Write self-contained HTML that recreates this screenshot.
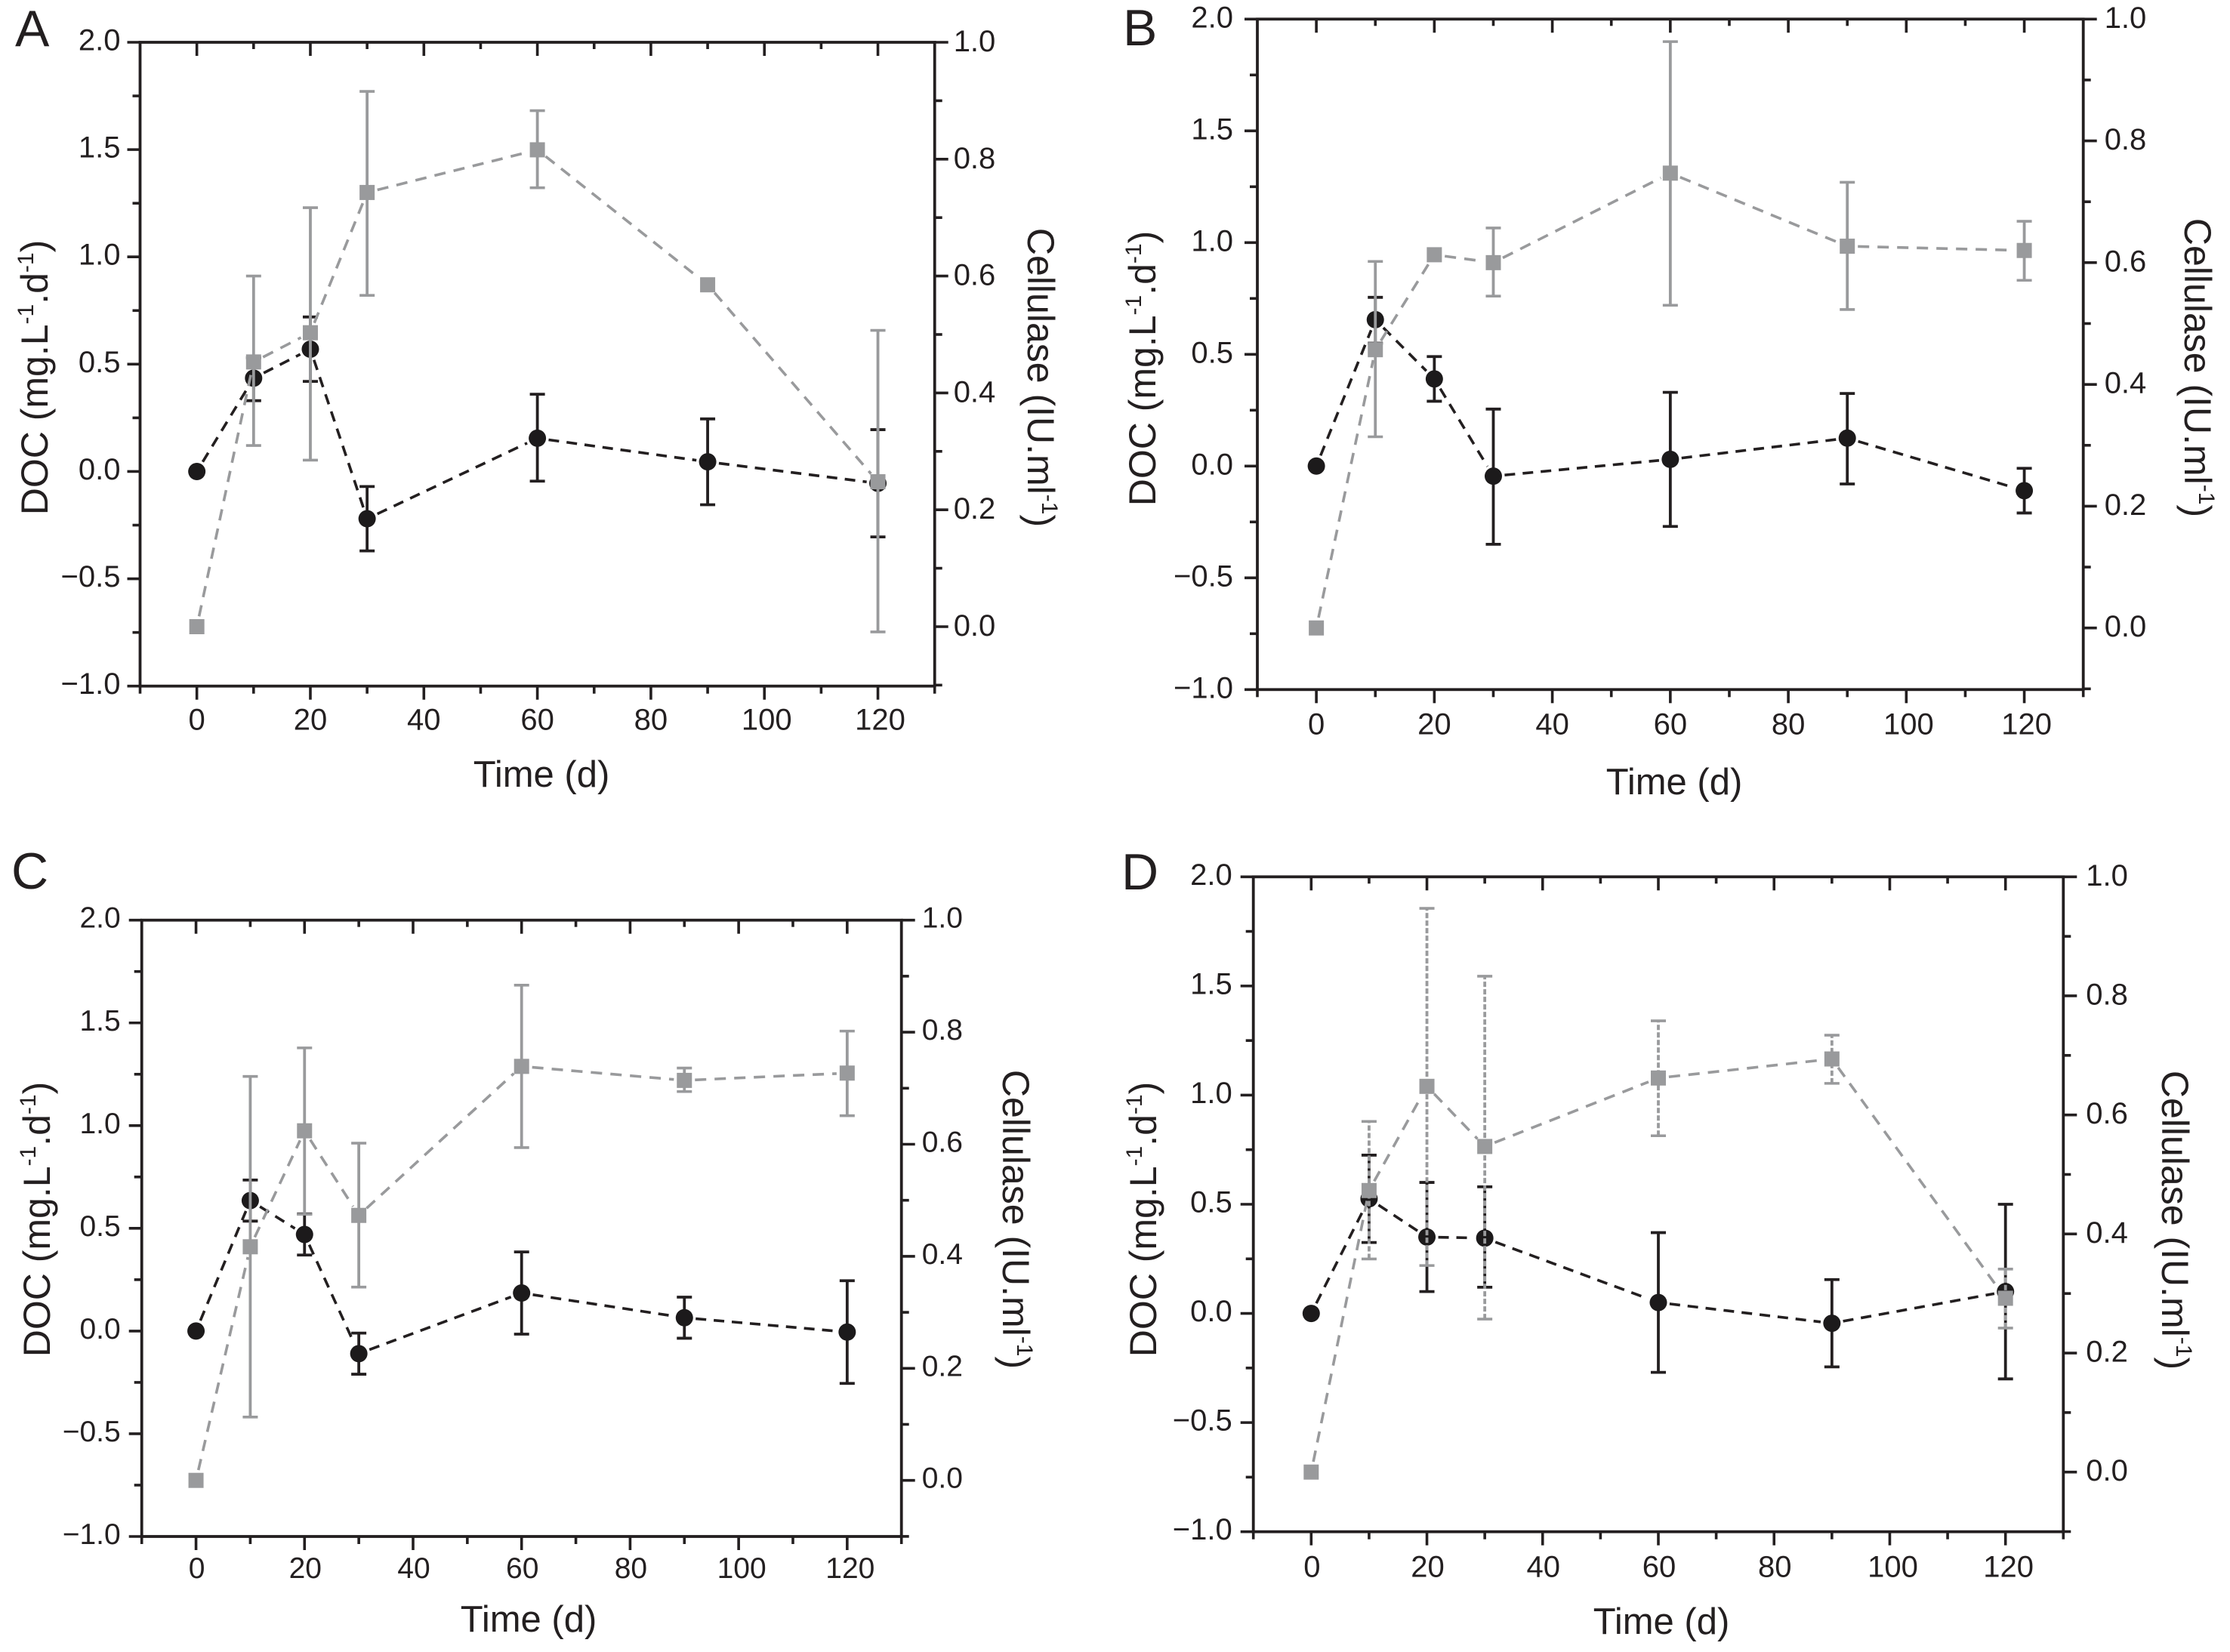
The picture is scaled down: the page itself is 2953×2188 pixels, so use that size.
<!DOCTYPE html>
<html lang="en">
<head>
<meta charset="utf-8">
<title>DOC and cellulase over time, panels A to D</title>
<style>
html,body{margin:0;padding:0;background:#fff;}
svg{display:block;}
text{font-family:"Liberation Sans",Arial,sans-serif;fill:#231f20;}
</style>
</head>
<body>
<svg id="figure" xmlns="http://www.w3.org/2000/svg" width="2953" height="2188" viewBox="0 0 2953 2188">
  <rect x="0" y="0" width="2953" height="2188" fill="#ffffff"/>

  <g id="panel-a">
    <text x="20" y="61" font-size="68">A</text>
    <text x="717" y="1042" font-size="49" text-anchor="middle">Time (d)</text>
    <text transform="translate(63,500) rotate(-90)" font-size="50" text-anchor="middle">DOC (mg.L<tspan font-size="30" dy="-19">-1</tspan><tspan dy="19">.d</tspan><tspan font-size="30" dy="-19">-1</tspan><tspan dy="19">)</tspan></text>
    <text transform="translate(1361,500) rotate(90)" font-size="50" text-anchor="middle">Cellulase (IU.ml<tspan font-size="30" dy="-19">-1</tspan><tspan dy="19">)</tspan></text>
  </g>

  <g id="panel-b">
    <text x="1487" y="60" font-size="68">B</text>
    <text x="2217" y="1052" font-size="49" text-anchor="middle">Time (d)</text>
    <text transform="translate(1530,488) rotate(-90)" font-size="50" text-anchor="middle">DOC (mg.L<tspan font-size="30" dy="-19">-1</tspan><tspan dy="19">.d</tspan><tspan font-size="30" dy="-19">-1</tspan><tspan dy="19">)</tspan></text>
    <text transform="translate(2893,487) rotate(90)" font-size="50" text-anchor="middle">Cellulase (IU.ml<tspan font-size="30" dy="-19">-1</tspan><tspan dy="19">)</tspan></text>
  </g>

  <g id="panel-c">
    <text x="15" y="1177" font-size="68">C</text>
    <text x="700" y="2161" font-size="49" text-anchor="middle">Time (d)</text>
    <text transform="translate(66,1615) rotate(-90)" font-size="50" text-anchor="middle">DOC (mg.L<tspan font-size="30" dy="-19">-1</tspan><tspan dy="19">.d</tspan><tspan font-size="30" dy="-19">-1</tspan><tspan dy="19">)</tspan></text>
    <text transform="translate(1328,1615) rotate(90)" font-size="50" text-anchor="middle">Cellulase (IU.ml<tspan font-size="30" dy="-19">-1</tspan><tspan dy="19">)</tspan></text>
  </g>

  <g id="panel-d">
    <text x="1485" y="1178" font-size="68">D</text>
    <text x="2200" y="2164" font-size="49" text-anchor="middle">Time (d)</text>
    <text transform="translate(1531,1615) rotate(-90)" font-size="50" text-anchor="middle">DOC (mg.L<tspan font-size="30" dy="-19">-1</tspan><tspan dy="19">.d</tspan><tspan font-size="30" dy="-19">-1</tspan><tspan dy="19">)</tspan></text>
    <text transform="translate(2863,1616) rotate(90)" font-size="50" text-anchor="middle">Cellulase (IU.ml<tspan font-size="30" dy="-19">-1</tspan><tspan dy="19">)</tspan></text>
  </g>
</svg>

<script>
// ---- shared categories and tick labels ----
const days = [0, 10, 20, 30, 60, 90, 120];
const xMajorTicks = [0, 20, 40, 60, 80, 100, 120];
const xMinorTicks = [-10, 10, 30, 50, 70, 90, 110, 130];
const xTickLabels = ["0", "20", "40", "60", "80", "100", "120"];
const leftMajorTicks = [-1, -0.5, 0, 0.5, 1, 1.5, 2];
const leftMinorTicks = [-0.75, -0.25, 0.25, 0.75, 1.25, 1.75];
const leftTickLabels = ["\u22121.0", "\u22120.5", "0.0", "0.5", "1.0", "1.5", "2.0"];
const rightMajorTicks = [0, 0.2, 0.4, 0.6, 0.8, 1];
const rightMinorTicks = [-0.1, 0.1, 0.3, 0.5, 0.7, 0.9];
const rightTickLabels = ["0.0", "0.2", "0.4", "0.6", "0.8", "1.0"];

// ---- panel A ----
const docA = [0, 0.435, 0.57, -0.22, 0.155, 0.045, -0.055];
const docLowA = [null, 0.33, 0.42, -0.37, -0.045, -0.155, -0.305];
const docHighA = [null, 0.53, 0.72, -0.07, 0.36, 0.245, 0.195];
const cellA = [0, 0.453, 0.503, 0.743, 0.816, 0.585, 0.248];
const cellLowA = [null, 0.31, 0.285, 0.567, 0.751, null, -0.009];
const cellHighA = [null, 0.6, 0.717, 0.916, 0.883, null, 0.507];

// ---- panel B ----
const docB = [0, 0.655, 0.39, -0.045, 0.03, 0.125, -0.11];
const docLowB = [null, 0.55, 0.29, -0.35, -0.27, -0.08, -0.21];
const docHighB = [null, 0.755, 0.49, 0.255, 0.33, 0.325, -0.01];
const cellB = [0, 0.457, 0.613, 0.6, 0.747, 0.627, 0.62];
const cellLowB = [null, 0.314, null, 0.545, 0.53, 0.523, 0.571];
const cellHighB = [null, 0.602, null, 0.657, 0.963, 0.732, 0.668];

// ---- panel C ----
const docC = [0, 0.635, 0.47, -0.11, 0.185, 0.065, -0.005];
const docLowC = [null, 0.535, 0.37, -0.21, -0.015, -0.035, -0.255];
const docHighC = [null, 0.735, 0.57, -0.01, 0.385, 0.165, 0.245];
const cellC = [0, 0.417, 0.624, 0.473, 0.739, 0.714, 0.727];
const cellLowC = [null, 0.113, 0.475, 0.345, 0.594, 0.694, 0.651];
const cellHighC = [null, 0.721, 0.772, 0.602, 0.884, 0.736, 0.802];

// ---- panel D ----
const docD = [0, 0.525, 0.35, 0.345, 0.05, -0.045, 0.1];
const docLowD = [null, 0.325, 0.1, 0.12, -0.27, -0.245, -0.3];
const docHighD = [null, 0.725, 0.6, 0.58, 0.37, 0.155, 0.5];
const cellD = [0, 0.473, 0.648, 0.547, 0.662, 0.694, 0.292];
const cellLowD = [null, 0.358, 0.347, 0.257, 0.565, 0.653, 0.242];
const cellHighD = [null, 0.589, 0.947, 0.833, 0.758, 0.734, 0.341];

const INK = "#231f20";
const GREY = "#999a9c";
const SVGNS = "http://www.w3.org/2000/svg";

function mk(parent, tag, attrs) {
  const el = document.createElementNS(SVGNS, tag);
  for (const k in attrs) el.setAttribute(k, attrs[k]);
  parent.appendChild(el);
  return el;
}

function drawPanel(p) {
  const root = document.getElementById(p.id);
  const xScale = d => p.L + (d + 10) / 140 * (p.R - p.L);
  const yLeft = v => p.B - (v + 1) / 3 * (p.B - p.T);
  const yRight = v => p.R0 - v * (p.R0 - p.T);

  // frame
  const frame = mk(root, "rect", {x: p.L, y: p.T, width: p.R - p.L, height: p.B - p.T, fill: "none", stroke: INK, "stroke-width": 3.8});
  
  

  // x ticks
  xMajorTicks.forEach((d, i) => {
    const x = xScale(d);
    const bottom = mk(root, "line", {x1: x, x2: x, y1: p.B, y2: p.B + 18, stroke: INK, "stroke-width": 3.6});
    
    
    const top = mk(root, "line", {x1: x, x2: x, y1: p.T, y2: p.T + 18, stroke: INK, "stroke-width": 3.6});
    
    
    const label = mk(root, "text", {x: x + p.xLabelDx + (d >= 100 ? 3 : 0), y: p.B + p.xLabelDy, "font-size": p.fs, "text-anchor": "middle"});
    label.textContent = xTickLabels[i];
    
    
  });
  xMinorTicks.forEach(d => {
    const x = xScale(d);
    const bottom = mk(root, "line", {x1: x, x2: x, y1: p.B, y2: p.B + 10, stroke: INK, "stroke-width": 3.6});
    
    
    if (d > -10 && d < 130) {
      const top = mk(root, "line", {x1: x, x2: x, y1: p.T, y2: p.T + 9, stroke: INK, "stroke-width": 3.6});
      
      
    }
  });

  // left axis ticks
  leftMajorTicks.forEach((v, i) => {
    const y = yLeft(v);
    const tick = mk(root, "line", {x1: p.L - 17, x2: p.L, y1: y, y2: y, stroke: INK, "stroke-width": 3.6});
    
    
    const label = mk(root, "text", {x: p.L - p.leftLabelGap, y: y + p.leftLabelDy, "font-size": p.fs, "text-anchor": "end"});
    label.textContent = leftTickLabels[i];
    
    
  });
  leftMinorTicks.forEach(v => {
    const y = yLeft(v);
    const tick = mk(root, "line", {x1: p.L - 10, x2: p.L, y1: y, y2: y, stroke: INK, "stroke-width": 3.6});
    
    
  });

  // right axis ticks
  rightMajorTicks.forEach((v, i) => {
    const y = yRight(v);
    const tick = mk(root, "line", {x1: p.R, x2: p.R + 18, y1: y, y2: y, stroke: INK, "stroke-width": 3.6});
    
    
    const label = mk(root, "text", {x: p.R + p.rightLabelGap, y: y + p.rightLabelDy, "font-size": p.fs});
    label.textContent = rightTickLabels[i];
    
    
  });
  rightMinorTicks.forEach(v => {
    const y = yRight(v);
    const tick = mk(root, "line", {x1: p.R, x2: p.R + 10, y1: y, y2: y, stroke: INK, "stroke-width": 3.6});
    
    
  });

  // DOC series: connecting dashes, error bars, circles
  for (let i = 0; i < days.length - 1; i++) {
    const x1 = xScale(days[i]), y1 = yLeft(p.doc[i]);
    const x2 = xScale(days[i + 1]), y2 = yLeft(p.doc[i + 1]);
    const len = Math.hypot(x2 - x1, y2 - y1);
    const ux = (x2 - x1) / len, uy = (y2 - y1) / len;
    const seg = mk(root, "line", {x1: x1 + ux * 15, y1: y1 + uy * 15, x2: x2 - ux * 15, y2: y2 - uy * 15, stroke: INK, "stroke-width": 3.6, "stroke-dasharray": "14 10"});
    
    
  }
  days.forEach((d, i) => {
    if (p.docLow[i] === null) return;
    const x = xScale(d), yl = yLeft(p.docLow[i]), yh = yLeft(p.docHigh[i]);
    const bar = mk(root, "line", {x1: x, x2: x, y1: yl, y2: yh, stroke: INK, "stroke-width": 3.8});
    
    
    const capLow = mk(root, "line", {x1: x - 10, x2: x + 10, y1: yl, y2: yl, stroke: INK, "stroke-width": 3.8});
    
    
    const capHigh = mk(root, "line", {x1: x - 10, x2: x + 10, y1: yh, y2: yh, stroke: INK, "stroke-width": 3.8});
    
    
  });
  days.forEach((d, i) => {
    const dot = mk(root, "circle", {cx: xScale(d), cy: yLeft(p.doc[i]), r: 11.5, fill: "#1c1a1b"});
    
    
  });

  // Cellulase series: connecting dashes, error bars, squares
  for (let i = 0; i < days.length - 1; i++) {
    const x1 = xScale(days[i]), y1 = yRight(p.cell[i]);
    const x2 = xScale(days[i + 1]), y2 = yRight(p.cell[i + 1]);
    const len = Math.hypot(x2 - x1, y2 - y1);
    const ux = (x2 - x1) / len, uy = (y2 - y1) / len;
    const seg = mk(root, "line", {x1: x1 + ux * 14, y1: y1 + uy * 14, x2: x2 - ux * 14, y2: y2 - uy * 14, stroke: GREY, "stroke-width": 3.6, "stroke-dasharray": "15 11"});
    
    
  }
  days.forEach((d, i) => {
    if (p.cellLow[i] === null) return;
    const x = xScale(d), yl = yRight(p.cellLow[i]), yh = yRight(p.cellHigh[i]);
    const bar = mk(root, "line", {x1: x, x2: x, y1: yl, y2: yh, stroke: GREY, "stroke-width": 3.8});
    if (p.dashedGreyBars) bar.setAttribute("stroke-dasharray", "7 3");
    
    
    const capLow = mk(root, "line", {x1: x - 10, x2: x + 10, y1: yl, y2: yl, stroke: GREY, "stroke-width": 3.6});
    
    
    const capHigh = mk(root, "line", {x1: x - 10, x2: x + 10, y1: yh, y2: yh, stroke: GREY, "stroke-width": 3.6});
    
    
  });
  days.forEach((d, i) => {
    const sq = mk(root, "rect", {x: xScale(d) - 10, y: yRight(p.cell[i]) - 10, width: 20, height: 20, fill: GREY});
    
    
  });
}

drawPanel({id: "panel-a", L: 185.5, R: 1237.7, T: 56, B: 908.7, R0: 830, fs: 40,
  leftLabelGap: 26, leftLabelDy: 10.5, rightLabelGap: 25, rightLabelDy: 12, xLabelDx: 0, xLabelDy: 58,
  doc: docA, docLow: docLowA, docHigh: docHighA, cell: cellA, cellLow: cellLowA, cellHigh: cellHighA, dashedGreyBars: false});
drawPanel({id: "panel-b", L: 1665, R: 2758.7, T: 25.3, B: 913.3, R0: 831.7, fs: 40,
  leftLabelGap: 32, leftLabelDy: 11, rightLabelGap: 28, rightLabelDy: 11.5, xLabelDx: 0, xLabelDy: 59.4,
  doc: docB, docLow: docLowB, docHigh: docHighB, cell: cellB, cellLow: cellLowB, cellHigh: cellHighB, dashedGreyBars: false});
drawPanel({id: "panel-c", L: 187.7, R: 1193.7, T: 1218.7, B: 2035, R0: 1960.7, fs: 39,
  leftLabelGap: 28, leftLabelDy: 10, rightLabelGap: 27, rightLabelDy: 10, xLabelDx: 1, xLabelDy: 55,
  doc: docC, docLow: docLowC, docHigh: docHighC, cell: cellC, cellLow: cellLowC, cellHigh: cellHighC, dashedGreyBars: false});
drawPanel({id: "panel-d", L: 1659.7, R: 2732.3, T: 1161.3, B: 2028.7, R0: 1949.7, fs: 40,
  leftLabelGap: 28, leftLabelDy: 10.5, rightLabelGap: 30, rightLabelDy: 11.5, xLabelDx: 1, xLabelDy: 59.6,
  doc: docD, docLow: docLowD, docHigh: docHighD, cell: cellD, cellLow: cellLowD, cellHigh: cellHighD, dashedGreyBars: true});
</script>
</body>
</html>
